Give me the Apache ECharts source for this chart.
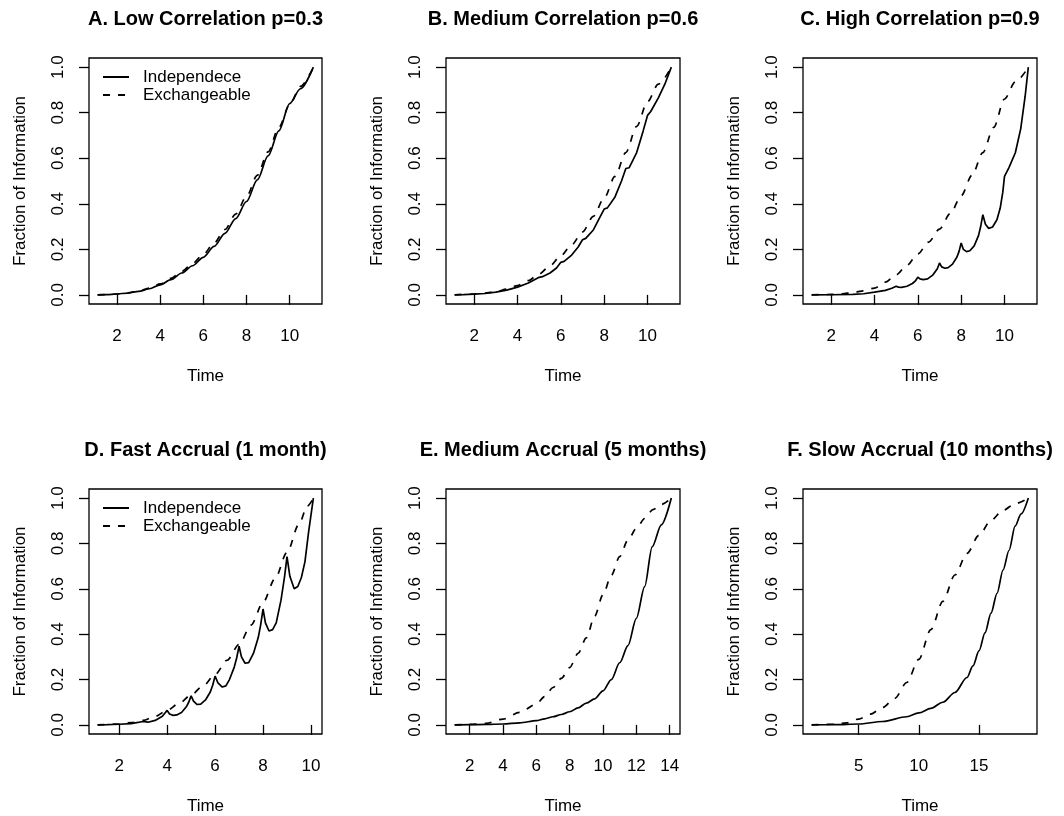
<!DOCTYPE html>
<html>
<head>
<meta charset="utf-8">
<script src="https://cdn.jsdelivr.net/npm/echarts@6/dist/echarts.min.js"></script>
<style>
html,body{margin:0;padding:0;background:#fff;}
#chart{width:1064px;height:816px;}
</style>
</head>
<body>
<div id="chart"></div>
<script>
// ---------- DATA ----------
const titles = [
  'A. Low Correlation p=0.3',
  'B. Medium Correlation p=0.6',
  'C. High Correlation p=0.9',
  'D. Fast Accrual (1 month)',
  'E. Medium Accrual (5 months)',
  'F. Slow Accrual (10 months)'
];
const seriesNames = ['Independece', 'Exchangeable'];
const xTicksA = [2, 4, 6, 8, 10];
const xTicksD = [2, 4, 6, 8, 10];
const xTicksE = [2, 4, 6, 8, 10, 12, 14];
const xTicksF = [5, 10, 15];
const yTicks = [0, 0.2, 0.4, 0.6, 0.8, 1.0];

// Panel A
const tAi = [1.1,1.5,2,2.5,3,3.5,4,4.5,5,5.5,6,6.5,7,7.5,8,8.5,9,9.5,10,10.5,11.1];
const yAi = [0,0.001,0.004,0.008,0.015,0.027,0.044,0.067,0.096,0.128,0.165,0.213,0.27,0.335,0.41,0.505,0.61,0.72,0.84,0.905,1.0];
const tAe = [1.1,1.5,2,2.5,3,3.5,4,4.5,5,5.5,6,6.5,7,7.5,8,8.5,9,9.5,10,10.5,11.1];
const yAe = [0,0.001,0.004,0.009,0.017,0.03,0.048,0.073,0.103,0.138,0.178,0.228,0.287,0.355,0.432,0.525,0.628,0.735,0.835,0.915,1.0];
// Panel B
const tBi = [1.1,1.5,2,2.5,3,3.5,4,4.5,5,5.15,5.5,5.8,6,6.15,6.5,6.8,7,7.15,7.5,7.8,8,8.15,8.5,8.8,9,9.15,9.5,9.8,10,10.15,10.5,10.8,11.1];
const yBi = [0,0.001,0.003,0.006,0.012,0.021,0.034,0.052,0.077,0.08,0.096,0.118,0.143,0.147,0.175,0.21,0.242,0.248,0.285,0.34,0.377,0.382,0.43,0.5,0.555,0.558,0.625,0.72,0.788,0.805,0.865,0.925,1.0];
const tBe = [1.1,2,2.5,3,3.5,4,4.5,5,5.5,6,6.5,7,7.5,8,8.5,9,9.5,10,10.5,11.1];
const yBe = [0,0.004,0.008,0.014,0.025,0.041,0.063,0.092,0.128,0.172,0.22,0.276,0.345,0.425,0.52,0.625,0.74,0.848,0.925,1.0];
// Panel C
const tCi = [1.1,2,3,3.5,4,4.5,4.8,5,5.1,5.25,5.5,5.75,5.9,6,6.1,6.25,6.45,6.7,6.9,7,7.1,7.25,7.4,7.6,7.8,7.9,8,8.1,8.25,8.4,8.6,8.8,8.9,9,9.12,9.27,9.45,9.65,9.8,9.92,10,10.2,10.5,10.75,10.95,11.1];
const yCi = [0,0.0005,0.002,0.005,0.012,0.02,0.029,0.038,0.034,0.033,0.038,0.05,0.063,0.078,0.07,0.067,0.07,0.088,0.115,0.14,0.123,0.117,0.12,0.135,0.165,0.19,0.228,0.2,0.19,0.194,0.215,0.26,0.3,0.352,0.31,0.292,0.298,0.33,0.38,0.45,0.52,0.558,0.624,0.73,0.87,1.0];
const tCe = [1.1,2,2.5,3,3.5,4,4.5,5,5.5,6,6.5,7,7.5,8,8.5,9,9.5,10,10.5,11.1];
const yCe = [0,0.002,0.005,0.01,0.018,0.03,0.056,0.088,0.13,0.18,0.232,0.289,0.357,0.435,0.525,0.625,0.735,0.86,0.935,1.0];
// Panel D
const tDi = [1.1,1.5,2,2.5,3,3.2,3.5,3.8,4,4.1,4.25,4.4,4.6,4.8,4.9,5,5.1,5.25,5.4,5.6,5.8,5.9,6,6.12,6.3,6.45,6.6,6.8,6.9,7,7.1,7.25,7.4,7.6,7.8,7.9,8,8.1,8.25,8.4,8.55,8.75,8.9,9,9.12,9.3,9.45,9.6,9.75,9.9,10.1];
const yDi = [0,0.001,0.003,0.006,0.015,0.012,0.02,0.038,0.064,0.048,0.042,0.044,0.055,0.08,0.1,0.128,0.105,0.09,0.092,0.11,0.145,0.175,0.215,0.185,0.167,0.172,0.2,0.255,0.295,0.347,0.3,0.272,0.275,0.315,0.385,0.44,0.511,0.45,0.414,0.42,0.45,0.55,0.655,0.742,0.655,0.6,0.61,0.65,0.72,0.85,1.0];
const tDe = [1.1,2,2.5,3,3.5,4,4.5,5,5.5,6,6.5,7,7.5,8,8.5,9,9.5,9.85,10.1];
const yDe = [0,0.004,0.01,0.02,0.038,0.064,0.095,0.132,0.172,0.222,0.285,0.355,0.44,0.54,0.645,0.76,0.885,0.965,1.0];
// Panel E
const tEi = [1.1,2,3,4,5,6,6.5,7,7.5,8,8.5,9,9.5,10,10.5,11,11.5,12,12.5,12.95,13.5,14.1];
const yEi = [0,0.001,0.002,0.004,0.009,0.019,0.027,0.036,0.046,0.058,0.075,0.096,0.115,0.15,0.2,0.274,0.35,0.47,0.61,0.785,0.882,1.0];
const tEe = [1.1,2,3,4,5,6,6.5,7,7.5,8,8.5,9,9.5,10,10.5,11,11.5,12,12.5,13,13.5,14.1];
const yEe = [0,0.002,0.007,0.026,0.055,0.092,0.125,0.165,0.205,0.253,0.315,0.384,0.48,0.574,0.66,0.742,0.815,0.866,0.91,0.949,0.972,1.0];
// Panel F
const tFi = [1.1,3,5,7,9,10,11,12,13,14,14.5,15,15.5,16,16.5,17,17.5,18,18.5,19.1];
const yFi = [0,0.001,0.004,0.015,0.036,0.053,0.073,0.1,0.143,0.209,0.26,0.326,0.406,0.493,0.58,0.683,0.77,0.876,0.93,1.0];
const tFe = [1.1,3,4,5,6,7,8,9,10,11,12,13,14,15,16,17,18,19.1];
const yFe = [0,0.003,0.009,0.026,0.048,0.077,0.117,0.187,0.289,0.42,0.545,0.661,0.756,0.836,0.902,0.946,0.975,1.0];

// ---------- LAYOUT ----------
const FONT = "'Liberation Sans', Arial, Helvetica, sans-serif";
const panels = [
  {left: 89,  top: 58,  w: 233, xmin: 0.7,  xmax: 11.5,  ticks: xTicksA, ind: [tAi, yAi], exc: [tAe, yAe], smoothInd: true},
  {left: 446, top: 58,  w: 234, xmin: 0.7,  xmax: 11.5,  ticks: xTicksA, ind: [tBi, yBi], exc: [tBe, yBe], smoothInd: false},
  {left: 803, top: 58,  w: 234, xmin: 0.7,  xmax: 11.5,  ticks: xTicksA, ind: [tCi, yCi], exc: [tCe, yCe], smoothInd: false},
  {left: 89,  top: 489, w: 233, xmin: 0.74, xmax: 10.46, ticks: xTicksD, ind: [tDi, yDi], exc: [tDe, yDe], smoothInd: false},
  {left: 446, top: 489, w: 234, xmin: 0.58, xmax: 14.62, ticks: xTicksE, ind: [tEi, yEi], exc: [tEe, yEe], smoothInd: true},
  {left: 803, top: 489, w: 234, xmin: 0.38, xmax: 19.82, ticks: xTicksF, ind: [tFi, yFi], exc: [tFe, yFe], smoothInd: true}
];
const H = 246;
const pair = (t, y) => t.map((x, k) => [x, y[k]]);
const txt = {fontFamily: FONT, color: '#000', fontSize: 17};

const grid = [], xAxis = [], yAxis = [], series = [], title = [];
panels.forEach((p, i) => {
  grid.push({left: p.left, top: p.top, width: p.w, height: H, show: true,
    borderColor: '#000', borderWidth: 1.3, backgroundColor: 'transparent', containLabel: false});
  title.push({text: titles[i], left: p.left + p.w / 2, top: p.top - 49, textAlign: 'center', padding: 0,
    textStyle: {fontFamily: FONT, fontWeight: 'bold', fontSize: 20, color: '#000'}});
  xAxis.push({type: 'value', gridIndex: i, min: p.xmin, max: p.xmax,
    name: 'Time', nameLocation: 'middle', nameGap: 64, nameTextStyle: txt,
    axisLine: {show: false}, splitLine: {show: false},
    axisTick: {show: true, length: 10, customValues: p.ticks, lineStyle: {color: '#000', width: 1.3}},
    axisLabel: {customValues: p.ticks, margin: 24, ...txt, formatter: v => String(v)}});
  yAxis.push({type: 'value', gridIndex: i, min: -0.04, max: 1.04,
    name: 'Fraction of Information', nameLocation: 'middle', nameGap: 60, nameRotate: 90, nameTextStyle: txt,
    axisLine: {show: false}, splitLine: {show: false},
    axisTick: {show: true, length: 10, customValues: yTicks, lineStyle: {color: '#000', width: 1.3}},
    axisLabel: {customValues: yTicks, margin: 22, rotate: 90, ...txt, formatter: v => v.toFixed(1)}});
  series.push({type: 'line', name: seriesNames[0], xAxisIndex: i, yAxisIndex: i,
    data: pair(p.ind[0], p.ind[1]), symbol: 'none', smooth: p.smoothInd ? 0.3 : false, smoothMonotone: 'x',
    lineStyle: {color: '#000', width: 1.7, type: 'solid'}, itemStyle: {color: '#000'}, silent: true});
  series.push({type: 'line', name: seriesNames[1], xAxisIndex: i, yAxisIndex: i,
    data: pair(p.exc[0], p.exc[1]), symbol: 'none', smooth: 0.3, smoothMonotone: 'x',
    lineStyle: {color: '#000', width: 1.7, type: [7, 8]}, itemStyle: {color: '#000'}, silent: true});
});

const legendBase = {data: seriesNames, orient: 'vertical', itemWidth: 26, itemHeight: 18, itemGap: 0,
  padding: 0, selectedMode: false,
  itemStyle: {color: 'transparent', borderColor: 'transparent', borderWidth: 0, opacity: 0},
  textStyle: {...txt, lineHeight: 18, padding: [0, 0, 0, 9]}};
const legend = [
  {...legendBase, left: 102, top: 68},
  {...legendBase, left: 102, top: 499}
];

const chart = echarts.init(document.getElementById('chart'), null, {renderer: 'canvas'});
chart.setOption({animation: false, backgroundColor: '#fff', title, legend, grid, xAxis, yAxis, series});
</script>
</body>
</html>
